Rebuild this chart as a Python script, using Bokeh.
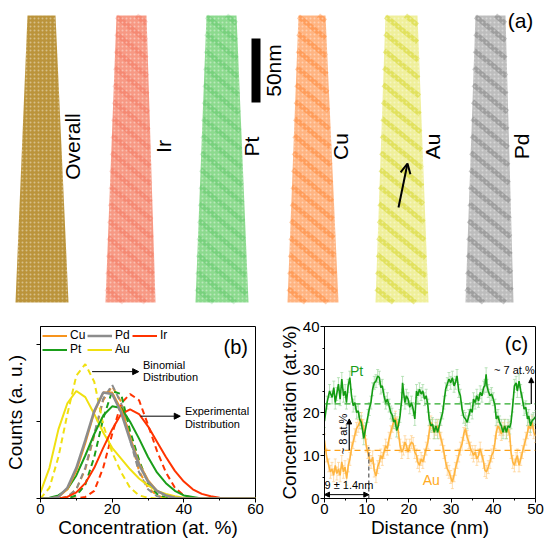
import math
from bokeh.plotting import figure
from bokeh.models import (Range1d, FixedTicker, CustomJSTickFormatter, Label, Arrow,
                          NormalHead, OpenHead, Legend, LegendItem, ColumnDataSource,
                          Whisker, TeeHead, Span)
from bokeh.layouts import column, row
from bokeh.embed import file_html
from bokeh.resources import INLINE

FONT = "Liberation Sans"

# ---------------- panel (a): APT reconstructions (tip outlines) ----------------
tip_names = ["Overall", "Ir", "Pt", "Cu", "Au", "Pd"]
tip_top_left = [27, 116, 206, 298, 385, 475]
tip_top_right = [55, 146, 236, 325, 417, 505]
tip_bot_left = [15, 105, 195, 287, 375, 465]
tip_bot_right = [68, 155, 248, 338, 428, 513]
tip_top_y = 15
tip_bot_y = 302
tip_fill = ["#b78e30", "#f7937d", "#86d888", "#ffb07a", "#eeee96", "#b9b9b9"]
tip_band = ["#6f8a1e", "#ee4426", "#1fae31", "#ff7010", "#cccc00", "#606060"]
tip_band_alpha = [0.0, 0.18, 0.18, 0.33, 0.4, 0.33]
tip_label_x = [72, 163, 251, 340, 432, 521]
tip_label_y = 146
band_period = 17      # spacing of the periodic bands along the tip (px of the image)
band_slope = 0.8      # drop of a band per unit width

# ---------------- panel (b): concentration distributions ----------------
bx = [0, 2.5, 5, 7.5, 10, 12.5, 15, 17.5, 20, 22.5, 25, 27.5, 30, 32.5, 35,
      37.5, 40, 42.5, 45, 47.5, 50, 52.5, 55, 57.5, 60]
au_exp = [0.04, 0.20, 0.45, 0.62, 0.70, 0.66, 0.55, 0.43, 0.33, 0.26, 0.19, 0.13, 0.085,
          0.05, 0.03, 0.015, 0.005, 0, 0, 0, 0, 0, 0, 0, 0]
au_bin = [0.0, 0.07, 0.27, 0.55, 0.80, 0.875, 0.76, 0.48, 0.30, 0.17, 0.07, 0.02, 0.005,
          0, 0, 0, 0, 0, 0, 0, 0, 0, 0, 0, 0]
pd_exp = [0, 0, 0.01, 0.07, 0.20, 0.38, 0.57, 0.69, 0.68, 0.56, 0.38, 0.22, 0.11,
          0.05, 0.02, 0.005, 0, 0, 0, 0, 0, 0, 0, 0, 0]
cu_exp = [0, 0, 0.01, 0.06, 0.18, 0.36, 0.56, 0.69, 0.69, 0.58, 0.40, 0.23, 0.12,
          0.05, 0.02, 0.005, 0, 0, 0, 0, 0, 0, 0, 0, 0]
pd_bin = [0, 0, 0, 0.01, 0.06, 0.20, 0.42, 0.65, 0.74, 0.62, 0.38, 0.17, 0.06,
          0.015, 0, 0, 0, 0, 0, 0, 0, 0, 0, 0, 0]
cu_bin = [0, 0, 0, 0.01, 0.06, 0.19, 0.41, 0.64, 0.73, 0.63, 0.40, 0.18, 0.07,
          0.02, 0, 0, 0, 0, 0, 0, 0, 0, 0, 0, 0]
pt_exp = [0, 0.005, 0.02, 0.06, 0.15, 0.28, 0.42, 0.54, 0.60, 0.59, 0.50, 0.39, 0.27,
          0.17, 0.10, 0.05, 0.02, 0.01, 0, 0, 0, 0, 0, 0, 0]
pt_bin = [0, 0, 0, 0, 0.02, 0.09, 0.27, 0.52, 0.70, 0.68, 0.44, 0.25, 0.10,
          0.03, 0.005, 0, 0, 0, 0, 0, 0, 0, 0, 0, 0]
ir_exp = [0, 0, 0, 0.01, 0.04, 0.10, 0.20, 0.33, 0.45, 0.55, 0.58, 0.55, 0.47,
          0.37, 0.27, 0.18, 0.11, 0.06, 0.03, 0.015, 0.005, 0, 0, 0, 0]
ir_bin = [0, 0, 0, 0, 0, 0.01, 0.05, 0.20, 0.42, 0.62, 0.68, 0.64, 0.48,
          0.31, 0.17, 0.07, 0.02, 0.005, 0, 0, 0, 0, 0, 0, 0]

c_cu, c_pd, c_ir, c_pt, c_au = "#f7941d", "#8c8c8c", "#ff3300", "#1a9e1a", "#f0e010"

# ---------------- panel (c): concentration profiles ----------------
pt_x = [0.0, 0.6, 1.2, 1.8, 2.2, 2.55, 2.9, 3.3, 3.7, 4.1, 4.5, 4.9, 5.2, 5.6, 6.0, 6.4,
        6.8, 7.2, 7.6, 8.0, 8.3, 8.7, 9.1, 9.3, 9.7, 10.3, 10.6, 11.0, 11.4, 11.8, 12.2,
        12.6, 13.0, 13.35, 13.7, 14.1, 14.5, 14.9, 15.3, 15.7, 16.0, 16.4, 16.7, 17.1,
        17.5, 17.9, 18.3, 18.5, 18.7, 19.06, 19.4, 19.8, 20.2, 20.6, 21.0, 21.4, 21.8,
        22.1, 22.5, 22.9, 23.3, 23.7, 24.1, 24.5, 24.8, 25.2, 25.6, 26.0, 26.4, 26.8,
        27.2, 27.6, 28.0, 28.3, 28.7, 29.1, 29.5, 29.9, 30.3, 30.7, 31.0, 31.4, 31.8,
        32.2, 32.6, 33.0, 33.4, 33.8, 34.2, 34.6, 35.0, 35.3, 35.7, 36.1, 36.5, 36.9,
        37.3, 37.7, 38.0, 38.3, 38.5, 38.8, 39.2, 39.6, 40.0, 40.4, 40.7, 41.1, 41.5,
        41.9, 42.3, 42.7, 43.1, 43.5, 43.9, 44.2, 44.6, 45.0, 45.4, 45.7, 46.1, 46.5,
        46.9, 47.3, 47.7, 48.1, 48.4, 48.8, 49.2, 49.6, 50.0]
pt_y = [18.0, 22.3, 25.0, 23.5, 25.8, 22.3, 24.3, 26.6, 23.1, 27.8, 23.9, 25.0, 22.3, 26.2,
        28.1, 23.9, 21.6, 22.3, 20.0, 20.4, 18.5, 17.7, 15.4, 14.0, 16.1, 19.2, 20.8, 22.3,
        25.4, 26.9, 27.3, 28.5, 28.1, 25.8, 26.2, 23.9, 22.3, 23.1, 21.6, 20.0, 19.5, 17.8,
        18.3, 15.8, 16.9, 19.2, 23.1, 26.9, 25.0, 22.3, 23.9, 23.1, 21.2, 22.3, 20.8, 18.5,
        25.0, 23.9, 25.4, 24.3, 25.0, 23.1, 23.9, 21.6, 18.5, 16.9, 17.3, 15.4, 16.9, 15.4,
        16.9, 18.5, 20.0, 22.3, 25.4, 26.6, 27.8, 26.9, 28.1, 26.2, 26.9, 28.5, 25.0, 23.9,
        20.8, 19.0, 18.5, 17.7, 19.2, 20.8, 20.0, 23.1, 22.3, 23.9, 22.7, 24.7, 23.9, 25.8,
        26.2, 28.9, 26.2, 25.0, 23.9, 24.3, 23.1, 21.6, 18.5, 19.2, 17.7, 16.9, 15.4, 16.9,
        15.4, 16.9, 16.5, 17.7, 21.6, 26.2, 26.9, 25.0, 27.3, 25.0, 23.1, 20.8, 21.2, 18.5,
        19.2, 16.9, 18.1, 18.5, 19.0]
au_x = [0.0, 0.46, 1.0, 1.39, 1.77, 2.16, 2.55, 2.93, 3.32, 3.7, 4.09, 4.47, 4.86, 5.25,
        5.63, 6.02, 6.4, 6.79, 7.18, 7.56, 7.95, 8.33, 8.72, 9.1, 9.49, 9.88, 10.26, 10.65,
        11.03, 11.42, 11.8, 12.2, 12.6, 13.0, 13.35, 13.7, 14.1, 14.5, 14.9, 15.3, 15.7,
        16.1, 16.4, 16.8, 17.2, 17.5, 17.9, 18.3, 18.7, 19.06, 19.4, 19.8, 20.2, 20.6,
        21.0, 21.4, 21.8, 22.1, 22.5, 22.9, 23.3, 23.7, 24.1, 24.5, 24.8, 25.2, 25.6,
        26.0, 26.4, 26.8, 27.2, 27.6, 28.0, 28.3, 28.7, 29.1, 29.5, 29.9, 30.3, 30.7,
        31.0, 31.4, 31.8, 32.2, 32.6, 33.0, 33.4, 33.8, 34.2, 34.6, 35.0, 35.3, 35.7,
        36.1, 36.5, 36.9, 37.3, 37.7, 38.0, 38.4, 38.8, 39.2, 39.6, 40.0, 40.4, 40.7,
        41.1, 41.5, 41.9, 42.3, 42.7, 43.1, 43.5, 43.9, 44.2, 44.6, 45.0, 45.4, 45.7,
        46.1, 46.5, 46.9, 47.3, 47.7, 48.1, 48.4, 48.8, 49.2, 49.6, 50.0]
au_y = [13.5, 10.0, 7.7, 6.2, 6.9, 5.4, 7.7, 5.8, 6.9, 5.4, 8.5, 6.2, 7.3, 4.6, 7.7, 9.2,
        11.6, 13.1, 14.7, 16.2, 16.9, 17.7, 18.5, 16.9, 15.4, 12.3, 10.8, 9.2, 8.5, 9.6,
        6.5, 5.2, 7.3, 8.5, 10.0, 9.2, 10.8, 12.3, 11.6, 13.9, 15.4, 16.9, 17.7, 18.8,
        17.5, 15.5, 12.3, 10.8, 11.6, 13.1, 12.3, 10.8, 12.3, 13.1, 12.7, 10.8, 10.0, 8.5,
        7.7, 9.2, 8.5, 10.0, 11.6, 13.1, 15.4, 17.7, 16.9, 15.4, 16.2, 16.9, 15.4, 13.9,
        12.3, 10.8, 8.5, 6.9, 6.2, 5.0, 3.8, 5.4, 6.9, 8.5, 10.0, 11.6, 12.7, 15.0, 16.3,
        14.3, 13.1, 11.6, 10.8, 10.0, 10.8, 9.2, 10.0, 11.6, 10.0, 8.5, 6.6, 6.2, 7.3, 8.5,
        10.0, 10.8, 13.1, 15.4, 16.9, 16.2, 15.0, 16.2, 16.9, 15.4, 16.2, 14.7, 10.8, 8.5,
        7.7, 9.2, 10.0, 7.7, 9.2, 10.8, 12.3, 13.9, 15.4, 16.9, 16.2, 17.7, 15.4, 14.5]
pt_err = 1.5
au_err = 1.5
pt_mean = 22.0
au_mean = 11.2
period_nm = 10.5


def style_axes(p, size="15px"):
    for ax in p.axis:
        ax.axis_label_text_font = FONT
        ax.axis_label_text_font_style = "normal"
        ax.axis_label_text_font_size = "19px"
        ax.axis_label_text_color = "black"
        ax.major_label_text_font = FONT
        ax.major_label_text_font_size = size
        ax.major_label_text_color = "black"
        ax.axis_line_color = "black"
        ax.major_tick_line_color = "black"
        ax.minor_tick_line_color = "black"
        ax.major_tick_in = 0
        ax.major_tick_out = 4
        ax.minor_tick_in = 0
        ax.minor_tick_out = 2
        ax.major_label_standoff = 1
        ax.axis_label_standoff = 0
    p.grid.visible = False
    p.outline_line_color = "black"
    p.outline_line_alpha = 1.0
    p.background_fill_color = "white"
    p.border_fill_color = "white"


# ================= figure (a) =================
pa = figure(width=550, height=310, x_range=Range1d(0, 550), y_range=Range1d(310, 0),
            output_backend="svg", toolbar_location=None, x_axis_location=None,
            y_axis_location=None, min_border=0)
pa.grid.visible = False
pa.outline_line_color = None
xs = [[tl, tr, br, bl] for tl, tr, br, bl in zip(tip_top_left, tip_top_right, tip_bot_right, tip_bot_left)]
ys = [[tip_top_y, tip_top_y, tip_bot_y, tip_bot_y] for _ in tip_names]
src_a = ColumnDataSource(dict(xs=xs, ys=ys, fill=tip_fill))
pa.patches("xs", "ys", source=src_a, fill_color="fill", line_color=None, fill_alpha=0.95)

# periodic bands, clipped to each tip outline
bx0, by0, bx1, by1, bcol, balp = [], [], [], [], [], []
H = tip_bot_y - tip_top_y
for i in range(len(tip_names)):
    if tip_band_alpha[i] <= 0:
        continue
    xl = lambda y, i=i: tip_top_left[i] + (tip_bot_left[i] - tip_top_left[i]) * (y - tip_top_y) / H
    xr = lambda y, i=i: tip_top_right[i] + (tip_bot_right[i] - tip_top_right[i]) * (y - tip_top_y) / H
    y = tip_top_y - 50
    while y < tip_bot_y:
        ya = y
        xa = xl(max(ya, tip_top_y))
        w = xr(max(ya, tip_top_y)) - xa
        xb, yb = xa + w, ya + w * band_slope
        if ya < tip_top_y:
            xa += (tip_top_y - ya) / band_slope
            ya = tip_top_y
        if yb > tip_bot_y:
            xb -= (yb - tip_bot_y) / band_slope
            yb = tip_bot_y
        if xb > xa:
            bx0.append(xa); by0.append(ya); bx1.append(xb); by1.append(yb)
            bcol.append(tip_band[i]); balp.append(tip_band_alpha[i])
        y += band_period
pa.segment(x0=bx0, y0=by0, x1=bx1, y1=by1, line_color=bcol, line_alpha=balp, line_width=5)
pa.patches("xs", "ys", source=src_a, fill_alpha=0, line_color=None,
           hatch_pattern="dot", hatch_color="white", hatch_alpha=0.4,
           hatch_scale=4, hatch_weight=1)
for name, lx in zip(tip_names, tip_label_x):
    pa.add_layout(Label(x=lx, y=tip_label_y, text=name, angle=math.pi / 2,
                        text_align="center", text_baseline="middle",
                        text_font=FONT, text_font_size="21px", text_color="black"))
# scale bar
scale_bar_x = [251, 260]
scale_bar_y = [38, 102]
pa.quad(left=scale_bar_x[0], right=scale_bar_x[1], top=scale_bar_y[0], bottom=scale_bar_y[1],
        fill_color="black", line_color=None)
pa.add_layout(Label(x=273, y=70, text="50nm", angle=math.pi / 2, text_align="center",
                    text_baseline="middle", text_font=FONT, text_font_size="21px",
                    text_color="black"))
pa.add_layout(Arrow(end=OpenHead(size=10, line_width=2, line_color="black"),
                    x_start=398, y_start=207, x_end=407, y_end=163,
                    line_width=2, line_color="black"))
pa.add_layout(Label(x=520, y=20, text="(a)", text_align="center", text_baseline="middle",
                    text_font=FONT, text_font_size="21px", text_color="black"))

# ================= figure (b) =================
pb = figure(width=275, height=240, x_range=Range1d(0, 60), y_range=Range1d(0, 1.12),
            output_backend="svg", toolbar_location=None,
            min_border_left=40, min_border_right=20, min_border_top=13, min_border_bottom=52,
            x_axis_label="Concentration (at. %)", y_axis_label="Counts (a. u.)")
pb.xaxis.ticker = FixedTicker(ticks=[0, 20, 40, 60], minor_ticks=[10, 30, 50])
pb.yaxis.ticker = FixedTicker(ticks=[0, 0.5, 1.0], minor_ticks=[])
pb.yaxis.formatter = CustomJSTickFormatter(code="return ''")
style_axes(pb)
pb.yaxis.major_label_standoff = 0
pb.yaxis.axis_label_standoff = 11

dash = "6 4"
for ys_, col in [(cu_bin, c_cu), (pd_bin, c_pd), (ir_bin, c_ir), (pt_bin, c_pt), (au_bin, c_au)]:
    pb.line(bx, ys_, line_color=col, line_width=2, line_dash=dash)
r_au = pb.line(bx, au_exp, line_color=c_au, line_width=2)
r_ir = pb.line(bx, ir_exp, line_color=c_ir, line_width=2)
r_pt = pb.line(bx, pt_exp, line_color=c_pt, line_width=2)
r_cu = pb.line(bx, cu_exp, line_color=c_cu, line_width=2)
r_pd = pb.line(bx, pd_exp, line_color=c_pd, line_width=2.5)

leg = Legend(items=[LegendItem(label="Cu", renderers=[r_cu]),
                    LegendItem(label="Pd", renderers=[r_pd]),
                    LegendItem(label="Ir", renderers=[r_ir]),
                    LegendItem(label="Pt", renderers=[r_pt]),
                    LegendItem(label="Au", renderers=[r_au])],
             location="top_left", orientation="horizontal", ncols=3,
             background_fill_alpha=0, border_line_color=None,
             label_text_font=FONT, label_text_font_size="12px", label_text_color="black",
             glyph_width=25, glyph_height=13, label_height=13, label_width=17,
             label_standoff=3, spacing=0, padding=2, margin=2)
pb.add_layout(leg, "center")

head = lambda: NormalHead(size=6, fill_color="black", line_color="black")
pb.add_layout(Arrow(end=head(), x_start=14.4, y_start=0.826, x_end=27.4, y_end=0.826,
                    line_color="black", line_width=1))
pb.add_layout(Arrow(end=head(), x_start=27.9, y_start=0.536, x_end=39.0, y_end=0.536,
                    line_color="black", line_width=1))
for txt, x, y in [("Binomial", 28.6, 0.869), ("Distribution", 28.6, 0.788),
                  ("Experimental", 40.3, 0.572), ("Distribution", 40.3, 0.487)]:
    pb.add_layout(Label(x=x, y=y, text=txt, text_align="left", text_baseline="middle",
                        text_font=FONT, text_font_size="11px", text_color="black"))
pb.add_layout(Label(x=54.5, y=0.985, text="(b)", text_align="center", text_baseline="middle",
                    text_font=FONT, text_font_size="20px", text_color="black"))

# ================= figure (c) =================
pc = figure(width=275, height=240, x_range=Range1d(0, 50), y_range=Range1d(0, 40),
            output_backend="svg", toolbar_location=None,
            min_border_left=44, min_border_right=15, min_border_top=16, min_border_bottom=52,
            x_axis_label="Distance (nm)", y_axis_label="Concentration (at.%)")
pc.xaxis.ticker = FixedTicker(ticks=[0, 10, 20, 30, 40, 50], minor_ticks=[5, 15, 25, 35, 45])
pc.yaxis.ticker = FixedTicker(ticks=[0, 10, 20, 30, 40], minor_ticks=[5, 15, 25, 35])
style_axes(pc)

src_pt = ColumnDataSource(dict(x=pt_x, y=pt_y, lo=[v - pt_err for v in pt_y],
                               hi=[v + pt_err for v in pt_y]))
src_au = ColumnDataSource(dict(x=au_x, y=au_y, lo=[v - au_err for v in au_y],
                               hi=[v + au_err for v in au_y]))
pc.add_layout(Whisker(base="x", lower="lo", upper="hi", source=src_au,
                      line_color="#ffcf8a", line_alpha=0.7, line_width=1,
                      upper_head=TeeHead(size=3, line_color="#ffcf8a", line_alpha=0.7),
                      lower_head=TeeHead(size=3, line_color="#ffcf8a", line_alpha=0.7)))
pc.add_layout(Whisker(base="x", lower="lo", upper="hi", source=src_pt,
                      line_color="#9fd89f", line_alpha=0.7, line_width=1,
                      upper_head=TeeHead(size=3, line_color="#9fd89f", line_alpha=0.7),
                      lower_head=TeeHead(size=3, line_color="#9fd89f", line_alpha=0.7)))
pc.line("x", "y", source=src_au, line_color="#ffb540", line_width=1.6)
pc.line("x", "y", source=src_pt, line_color="#139c13", line_width=1.6)
pc.add_layout(Span(location=pt_mean, dimension="width", line_color="#2aaa2a",
                   line_dash="6 4", line_width=1.2))
pc.add_layout(Span(location=au_mean, dimension="width", line_color="#ffa31a",
                   line_dash="6 4", line_width=1.2))
pc.segment(x0=[period_nm], y0=[0], x1=[period_nm], y1=[12.0], line_color="#555555",
           line_dash="4 3", line_width=1.2)

sh = lambda: NormalHead(size=5, fill_color="black", line_color="black")
pc.add_layout(Arrow(start=sh(), end=sh(), x_start=0, y_start=0.9, x_end=period_nm, y_end=0.9,
                    line_color="black", line_width=1))
pc.add_layout(Arrow(end=sh(), x_start=49.0, y_start=pt_mean, x_end=49.0, y_end=28.1,
                    line_color="black", line_width=1.2))
pc.add_layout(Arrow(end=sh(), x_start=5.86, y_start=au_mean, x_end=5.86, y_end=18.5,
                    line_color="black", line_width=1.2))
pc.add_layout(Label(x=0.0, y=3.1, text="9 ± 1.4nm", text_align="left", text_baseline="middle",
                    text_font=FONT, text_font_size="11px", text_color="black"))
pc.add_layout(Label(x=45.0, y=29.9, text="~ 7 at.%", text_align="center", text_baseline="middle",
                    text_font=FONT, text_font_size="11px", text_color="black"))
pc.add_layout(Label(x=4.4, y=15.0, text="~ 8 at.%", angle=math.pi / 2, text_align="center",
                    text_baseline="middle", text_font=FONT, text_font_size="11px",
                    text_color="black"))
pc.add_layout(Label(x=7.6, y=29.7, text="Pt", text_align="center", text_baseline="middle",
                    text_font=FONT, text_font_size="14px", text_color="#1a9e1a"))
pc.add_layout(Label(x=25.3, y=4.2, text="Au", text_align="center", text_baseline="middle",
                    text_font=FONT, text_font_size="14px", text_color="#ffaa22"))
pc.add_layout(Label(x=45.5, y=36.0, text="(c)", text_align="center", text_baseline="middle",
                    text_font=FONT, text_font_size="20px", text_color="black"))

layout = column(pa, row(pb, pc))
open("out.html", "w").write(file_html(layout, INLINE))
